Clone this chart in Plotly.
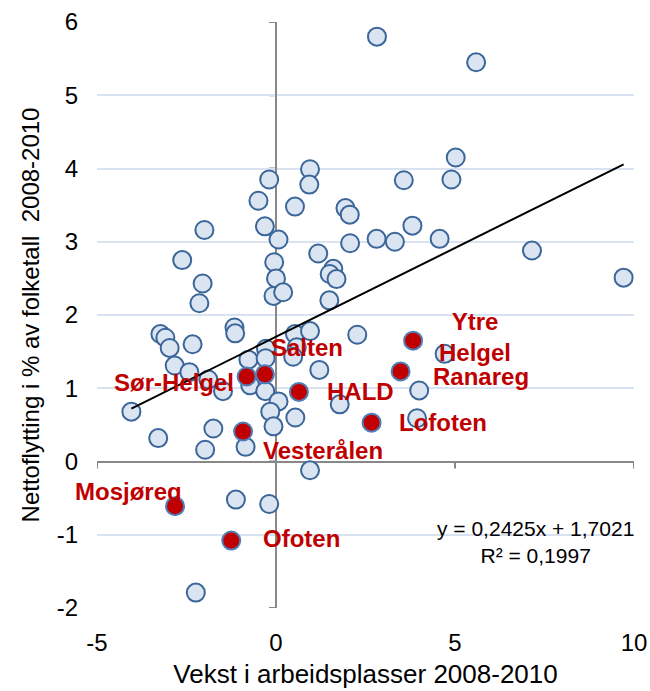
import plotly.graph_objects as go

# ---------------- data ----------------
blue_x = [2.82, 5.59, 0.95, -0.19, 0.93, -0.49, 0.53, 1.94, 2.06, -2.0, -0.31, 0.07, 2.07, 2.81,
          5.02, 4.90, 3.57, 3.81, 3.32, 4.57, 7.15, 9.71, 1.60, 1.50, 1.69, 1.49, 2.27, 4.71,
          4.00, 1.78, 3.94, 1.18, -2.62, -0.05, -2.05, 0.0, -0.07, 0.20, -2.14, -1.16, -1.14,
          -3.23, -3.09, 0.53, 0.95, -2.97, -2.33, -0.28, 0.58, 0.48, -0.77, -0.29, -2.83, -2.42,
          1.21, -1.89, -1.48, -0.72, -0.30, 0.07, -4.04, -0.16, 0.54, -1.75, -0.07, -3.29, -0.85,
          -1.98, 0.95, -1.12, -0.19, -2.24]
blue_y = [5.80, 5.45, 3.99, 3.85, 3.78, 3.56, 3.48, 3.46, 3.37, 3.16, 3.21, 3.03, 2.98, 3.04,
          4.15, 3.85, 3.84, 3.22, 3.00, 3.04, 2.88, 2.51, 2.63, 2.56, 2.49, 2.20, 1.73, 1.47,
          0.97, 0.78, 0.59, 2.84, 2.75, 2.72, 2.43, 2.50, 2.26, 2.31, 2.16, 1.83, 1.75,
          1.74, 1.69, 1.74, 1.78, 1.55, 1.60, 1.54, 1.56, 1.43, 1.39, 1.41, 1.31, 1.22,
          1.25, 1.12, 0.96, 1.04, 0.96, 0.82, 0.68, 0.68, 0.60, 0.45, 0.48, 0.32, 0.20,
          0.16, -0.12, -0.52, -0.58, -1.79]

regions = ["Sør-Helgel", "Salten", "HALD", "Vesterålen", "Mosjøreg", "Ofoten",
           "Lofoten", "Ranareg", "Ytre<br>Helgel"]
red_x = [-0.82, -0.31, 0.64, -0.92, -2.82, -1.25, 2.67, 3.48, 3.83]
red_y = [1.16, 1.19, 0.95, 0.41, -0.61, -1.08, 0.53, 1.23, 1.65]

slope = 0.2425
intercept = 1.7021
r2 = 0.1997
equation = "y = 0,2425x + 1,7021<br>R² = 0,1997"

x_ticks = [-5, 0, 5, 10]
x_ticktext = ["-5", "0", "5", "10"]
y_ticks = [-2, -1, 0, 1, 2, 3, 4, 5, 6]
y_ticktext = ["-2", "-1", "0", "1", "2", "3", "4", "5", "6"]

x_title = "Vekst i arbeidsplasser 2008-2010"
y_title = "Nettoflytting i % av folketall\u00a0 2008-2010"

# ---------------- styles ----------------
FONT = "Liberation Sans, Arial, sans-serif"
RED = "#c00000"
AX_GREY = "#888888"

all_x = blue_x + red_x
x_min, x_max = min(all_x), max(all_x)

fig = go.Figure()

fig.add_trace(go.Scatter(
    x=blue_x, y=blue_y, mode="markers",
    marker=dict(size=18, color="#dbe4f1", line=dict(color="#3b6699", width=2)),
    hoverinfo="skip", showlegend=False))

fig.add_trace(go.Scatter(
    x=[x_min, x_max], y=[slope * x_min + intercept, slope * x_max + intercept],
    mode="lines", line=dict(color="black", width=2),
    hoverinfo="skip", showlegend=False))

fig.add_trace(go.Scatter(
    x=red_x, y=red_y, mode="markers",
    marker=dict(size=18, color=RED, line=dict(color="#4f7fb8", width=2)),
    hoverinfo="skip", showlegend=False))

# label placement (pixel offsets, anchors)
label_style = {
    "Sør-Helgel": dict(xanchor="right", xshift=-11, yshift=-6),
    "Salten": dict(xanchor="left", xshift=4, yshift=27),
    "HALD": dict(xanchor="left", xshift=26, yshift=0),
    "Vesterålen": dict(xanchor="left", xshift=18, yshift=-19),
    "Mosjøreg": dict(xanchor="right", xshift=9, yshift=15),
    "Ofoten": dict(xanchor="left", xshift=30, yshift=2),
    "Lofoten": dict(xanchor="left", xshift=25, yshift=0),
    "Ranareg": dict(xanchor="left", xshift=30, yshift=-5),
    "Ytre<br>Helgel": dict(xanchor="center", xshift=62, yshift=4),
}
for name, xv, yv in zip(regions, red_x, red_y):
    st = label_style[name]
    fig.add_annotation(x=xv, y=yv, xref="x", yref="y", text="<b>" + name + "</b>",
                       showarrow=False, xanchor=st["xanchor"], yanchor="middle",
                       xshift=st["xshift"], yshift=st["yshift"], align="center",
                       font=dict(family=FONT, size=24, color=RED))

# equation
fig.add_annotation(x=0.816, y=0.112, xref="paper", yref="paper", text=equation,
                   showarrow=False, xanchor="center", yanchor="middle", align="center",
                   font=dict(family=FONT, size=21, color="#000000"))

# tick marks on the crossing axes
for yv in y_ticks:
    fig.add_shape(type="line", xref="x", yref="y", xsizemode="pixel", xanchor=0,
                  x0=-7, x1=0, y0=yv, y1=yv, line=dict(color=AX_GREY, width=2), layer="below")
for xv in x_ticks:
    fig.add_shape(type="line", xref="x", yref="y", ysizemode="pixel", yanchor=0,
                  y0=-7, y1=0, x0=xv, x1=xv, line=dict(color=AX_GREY, width=2), layer="below")

fig.update_layout(
    width=650, height=691,
    margin=dict(l=97, r=16, t=22, b=83, autoexpand=False),
    paper_bgcolor="white", plot_bgcolor="white",
    font=dict(family=FONT, color="black"),
    xaxis=dict(range=[-5, 10], tickvals=x_ticks, ticktext=x_ticktext, automargin=False,
               showgrid=False, zeroline=True, zerolinecolor=AX_GREY, zerolinewidth=2,
               showline=False, ticks="", ticklabelstandoff=18,
               tickfont=dict(family=FONT, size=24, color="black"),
               title=dict(text=x_title, font=dict(family=FONT, size=26, color="black"),
                          standoff=9)),
    yaxis=dict(range=[-2, 6], tickvals=y_ticks, ticktext=y_ticktext, automargin=False,
               showgrid=True, gridcolor="#d9e2f1", gridwidth=2,
               zeroline=True, zerolinecolor=AX_GREY, zerolinewidth=2,
               showline=False, ticks="", ticklabelstandoff=18,
               tickfont=dict(family=FONT, size=24, color="black"),
               title=dict(text=y_title, font=dict(family=FONT, size=24, color="black"),
                          standoff=10)),
)

# remove the browser's default 8px page margin so the 650x691 figure fills the window exactly
fig.write_html("out.html", config={"displayModeBar": False},
               post_script="document.body.style.margin='0';document.body.style.overflow='hidden';")
